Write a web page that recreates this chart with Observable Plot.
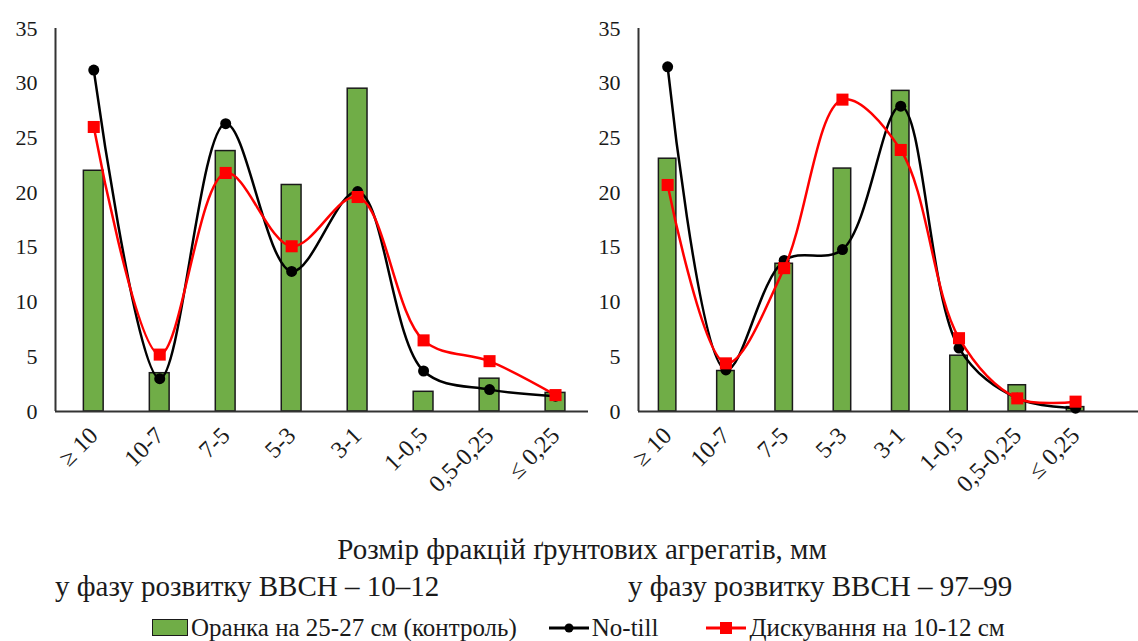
<!DOCTYPE html>
<html><head><meta charset="utf-8">
<script src="https://cdn.jsdelivr.net/npm/d3@7"></script>
<script src="https://cdn.jsdelivr.net/npm/@observablehq/plot@0.6"></script>
<style>
body{margin:0;background:#fff;font-family:"Liberation Serif","DejaVu Serif","Noto Serif",Tinos,"Times New Roman",serif;color:#1a1a1a;}
#wrap{position:relative;width:1138px;height:641px;overflow:hidden;background:#fff;}
.abs{position:absolute;line-height:1;white-space:nowrap;}
#title{left:0;width:1164px;text-align:center;top:535px;font-size:29px;}
#subA{left:55px;top:572px;font-size:29px;}
#subB{left:628px;top:572px;font-size:29px;}
#legend{left:152px;top:615px;font-size:25px;display:flex;align-items:center;}
.sw{display:inline-block;width:34px;height:15px;background:#70AD47;border:1.5px solid #1a1a1a;margin-right:3px;}
.li{display:inline-flex;align-items:center;}
svg text{font-family:"Liberation Serif","DejaVu Serif","Noto Serif",Tinos,"Times New Roman",serif;}
</style></head><body>
<div id="wrap">
  <div id="left" class="abs" style="left:0;top:0"></div>
  <div id="right" class="abs" style="left:600px;top:0"></div>
  <div id="title" class="abs">Розмір фракцій ґрунтових агрегатів, мм</div>
  <div id="subA" class="abs">у фазу розвитку ВВСН – 10–12</div>
  <div id="subB" class="abs">у фазу розвитку ВВСН – 97–99</div>
  <div id="legend" class="abs">
    <span class="li"><span class="sw"></span>Оранка на 25-27 см (контроль)</span>
    <span class="li" style="margin-left:32px"><svg width="40" height="14" style="margin-right:3px"><line x1="0" y1="7" x2="40" y2="7" stroke="#000" stroke-width="3"/><circle cx="20" cy="7" r="4.5" fill="#000"/></svg>No-till</span>
    <span class="li" style="margin-left:48px"><svg width="40" height="14" style="margin-right:3px"><line x1="0" y1="7" x2="40" y2="7" stroke="#ff0000" stroke-width="3"/><rect x="14" y="1" width="12" height="12" fill="#ff0000"/></svg>Дискування на 10-12 см</span>
  </div>
</div>
<script>
const categories = ["≥ 10","10-7","7-5","5-3","3-1","1-0,5","0,5-0,25","≤ 0,25"];
const yTicks = [0,5,10,15,20,25,30,35];
// Panel A: BBCH 10-12
const ploughA = [22.0, 3.5, 23.8, 20.7, 29.5, 1.8, 3.0, 1.7];
const noTillA = [31.2, 3.0, 26.3, 12.8, 20.1, 3.7, 2.0, 1.4];
const discA   = [26.0, 5.2, 21.8, 15.1, 19.6, 6.5, 4.6, 1.5];
// Panel B: BBCH 97-99
const ploughB = [23.1, 3.7, 13.5, 22.2, 29.3, 5.1, 2.4, 0.4];
const noTillB = [31.5, 3.8, 13.8, 14.8, 27.9, 5.8, 1.2, 0.3];
const discB   = [20.7, 4.4, 13.1, 28.5, 23.9, 6.7, 1.2, 0.9];

const FONT = '"Liberation Serif","DejaVu Serif","Noto Serif",Tinos,"Times New Roman",serif';

function panel(el, opts, plough, noTill, disc) {
  const rows = categories.map((c, i) => ({i, c, plough: plough[i], noTill: noTill[i], disc: disc[i]}));
  const hw = 0.15;
  const chart = Plot.plot({
    width: opts.width, height: 520,
    marginLeft: opts.ml, marginRight: opts.mr, marginTop: 28, marginBottom: 109,
    style: {fontFamily: FONT, fontSize: "22px", color: "#1a1a1a", background: "transparent", overflow: "visible"},
    x: {domain: opts.xdom},
    y: {domain: [0, 35]},
    marks: [
      Plot.rectY(rows, {x1: d => d.i - hw, x2: d => d.i + hw, y1: 0, y2: "plough", fill: "#70AD47", stroke: "#1a1a1a", strokeWidth: 1.5}),
      Plot.ruleY([0], {stroke: "#333", strokeWidth: 2}),
      Plot.ruleX([opts.xdom[0]], {y1: 0, y2: 35, stroke: "#333", strokeWidth: 2}),
      Plot.axisY({ticks: yTicks, tickSize: 0, tickPadding: 18, fontSize: 22, label: null, fill: "#1a1a1a"}),
      Plot.axisX({ticks: rows.map(d => d.i), tickFormat: i => categories[i], tickSize: 0, tickRotate: -45, tickPadding: 20, fontSize: 24, label: null, fill: "#1a1a1a"}),
      Plot.line(rows, {x: "i", y: "noTill", curve: "catmull-rom", stroke: "#000", strokeWidth: 2.5}),
      Plot.dot(rows, {x: "i", y: "noTill", r: 5.5, fill: "#000"}),
      Plot.line(rows, {x: "i", y: "disc", curve: "catmull-rom", stroke: "#ff0000", strokeWidth: 2.5}),
      Plot.dot(rows, {x: "i", y: "disc", symbol: "square", r: 6.8, fill: "#ff0000"})
    ]
  });
  document.getElementById(el).appendChild(chart);
}

panel("left", {width: 600, ml: 55, mr: 12, xdom: [-0.58, 7.5]}, ploughA, noTillA, discA);
panel("right", {width: 538, ml: 38, mr: 0, xdom: [-0.5, 8.08]}, ploughB, noTillB, discB);
</script>
</body></html>
